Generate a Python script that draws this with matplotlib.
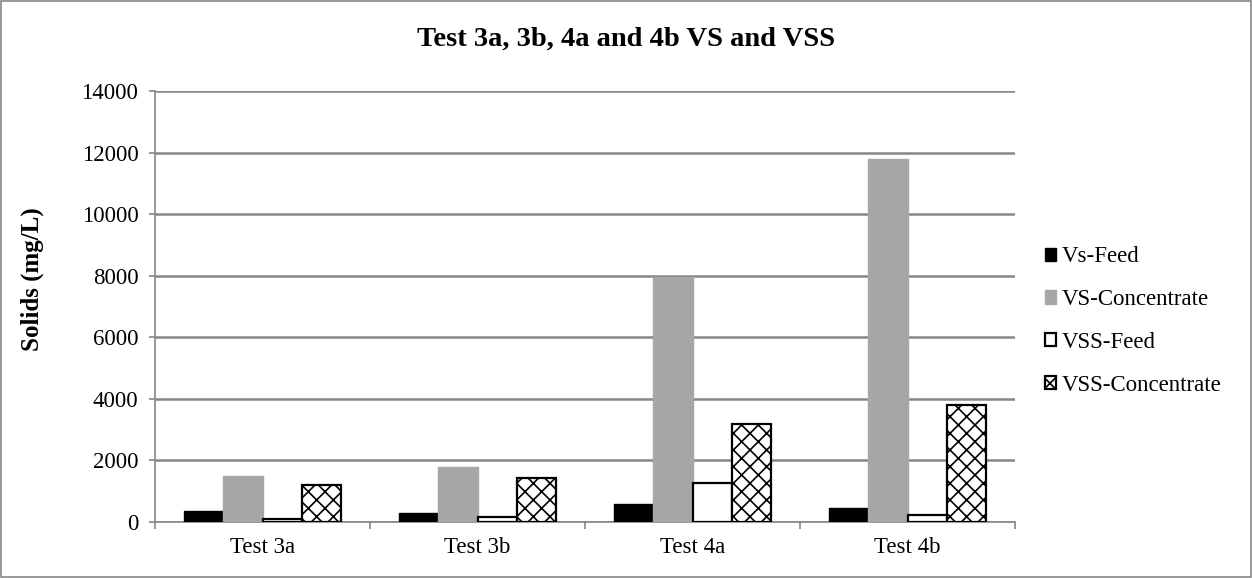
import numpy as np
import matplotlib.pyplot as plt
from matplotlib.patches import Rectangle

plt.rcParams['font.family'] = ['Liberation Serif', 'DejaVu Serif']
plt.rcParams['hatch.linewidth'] = 1.2

# data
tests = ['Test 3a', 'Test 3b', 'Test 4a', 'Test 4b']
vs_feed = [370, 280, 580, 460]
vs_conc = [1500, 1800, 7950, 11800]
vss_feed = [110, 170, 1270, 220]
vss_conc = [1200, 1420, 3170, 3800]
series_names = ['Vs-Feed', 'VS-Concentrate', 'VSS-Feed', 'VSS-Concentrate']

fig = plt.figure(figsize=(12.52, 5.78), dpi=100)
fig.patches.append(Rectangle((0.001, 0.002), 0.998, 0.996, transform=fig.transFigure,
                             fill=False, edgecolor='#868686', linewidth=1.2))
ax = fig.add_axes([155 / 1252, 1 - 522 / 578, 860 / 1252, 431 / 578])

x = np.arange(len(tests))
w = 1 / 5.5
styles = [
    dict(color='black', edgecolor='black'),
    dict(color='#a6a6a6', edgecolor='#a6a6a6'),
    dict(facecolor='white', edgecolor='black', linewidth=1.6),
    dict(facecolor='white', edgecolor='black', linewidth=1.6, hatch='xx'),
]
handles = []
for i, (vals, st) in enumerate(zip([vs_feed, vs_conc, vss_feed, vss_conc], styles)):
    b = ax.bar(x + (i - 1.5) * w, vals, w, label=series_names[i], zorder=3, **st)
    handles.append(b)

ax.set_xlim(-0.5, 3.5)
ax.set_ylim(0, 14000)
ax.set_yticks(range(0, 14001, 2000))
ax.yaxis.grid(True, color='#868686', linewidth=1.8, zorder=0)
ax.set_axisbelow(True)

ax.set_xticks(x)
ax.set_xticklabels(tests)
ax.set_xticks(np.arange(-0.5, 4, 1), minor=True)
ax.tick_params(axis='x', which='major', length=0, pad=11, labelsize=16.5)
ax.tick_params(axis='x', which='minor', length=5, color='#868686', width=1.2)
ax.tick_params(axis='y', length=4, color='#868686', width=1.2, labelsize=16.5, pad=8)

for s in ['top', 'right']:
    ax.spines[s].set_visible(False)
ax.spines['left'].set_color('#868686')
ax.spines['bottom'].set_color('#868686')
ax.spines['left'].set_linewidth(1.2)
ax.spines['bottom'].set_linewidth(1.2)

ax.set_ylabel('Solids (mg/L)', fontsize=18, fontweight='bold', va='center')
ax.yaxis.set_label_coords((32 - 155) / 860, (522 - 279) / 431)
fig.text(0.5, 1 - 39 / 578, 'Test 3a, 3b, 4a and 4b VS and VSS', ha='center', va='center',
         fontsize=20.5, fontweight='bold')

ax.legend(handles=handles, loc='center left', bbox_to_anchor=(1045 / 1252, 1 - 321 / 578),
          bbox_transform=fig.transFigure, frameon=False, fontsize=16.5, borderpad=0,
          borderaxespad=0, handlelength=0.5, handleheight=0.5, handletextpad=0.25,
          labelspacing=0.95)

plt.savefig('out.png', dpi=100)
